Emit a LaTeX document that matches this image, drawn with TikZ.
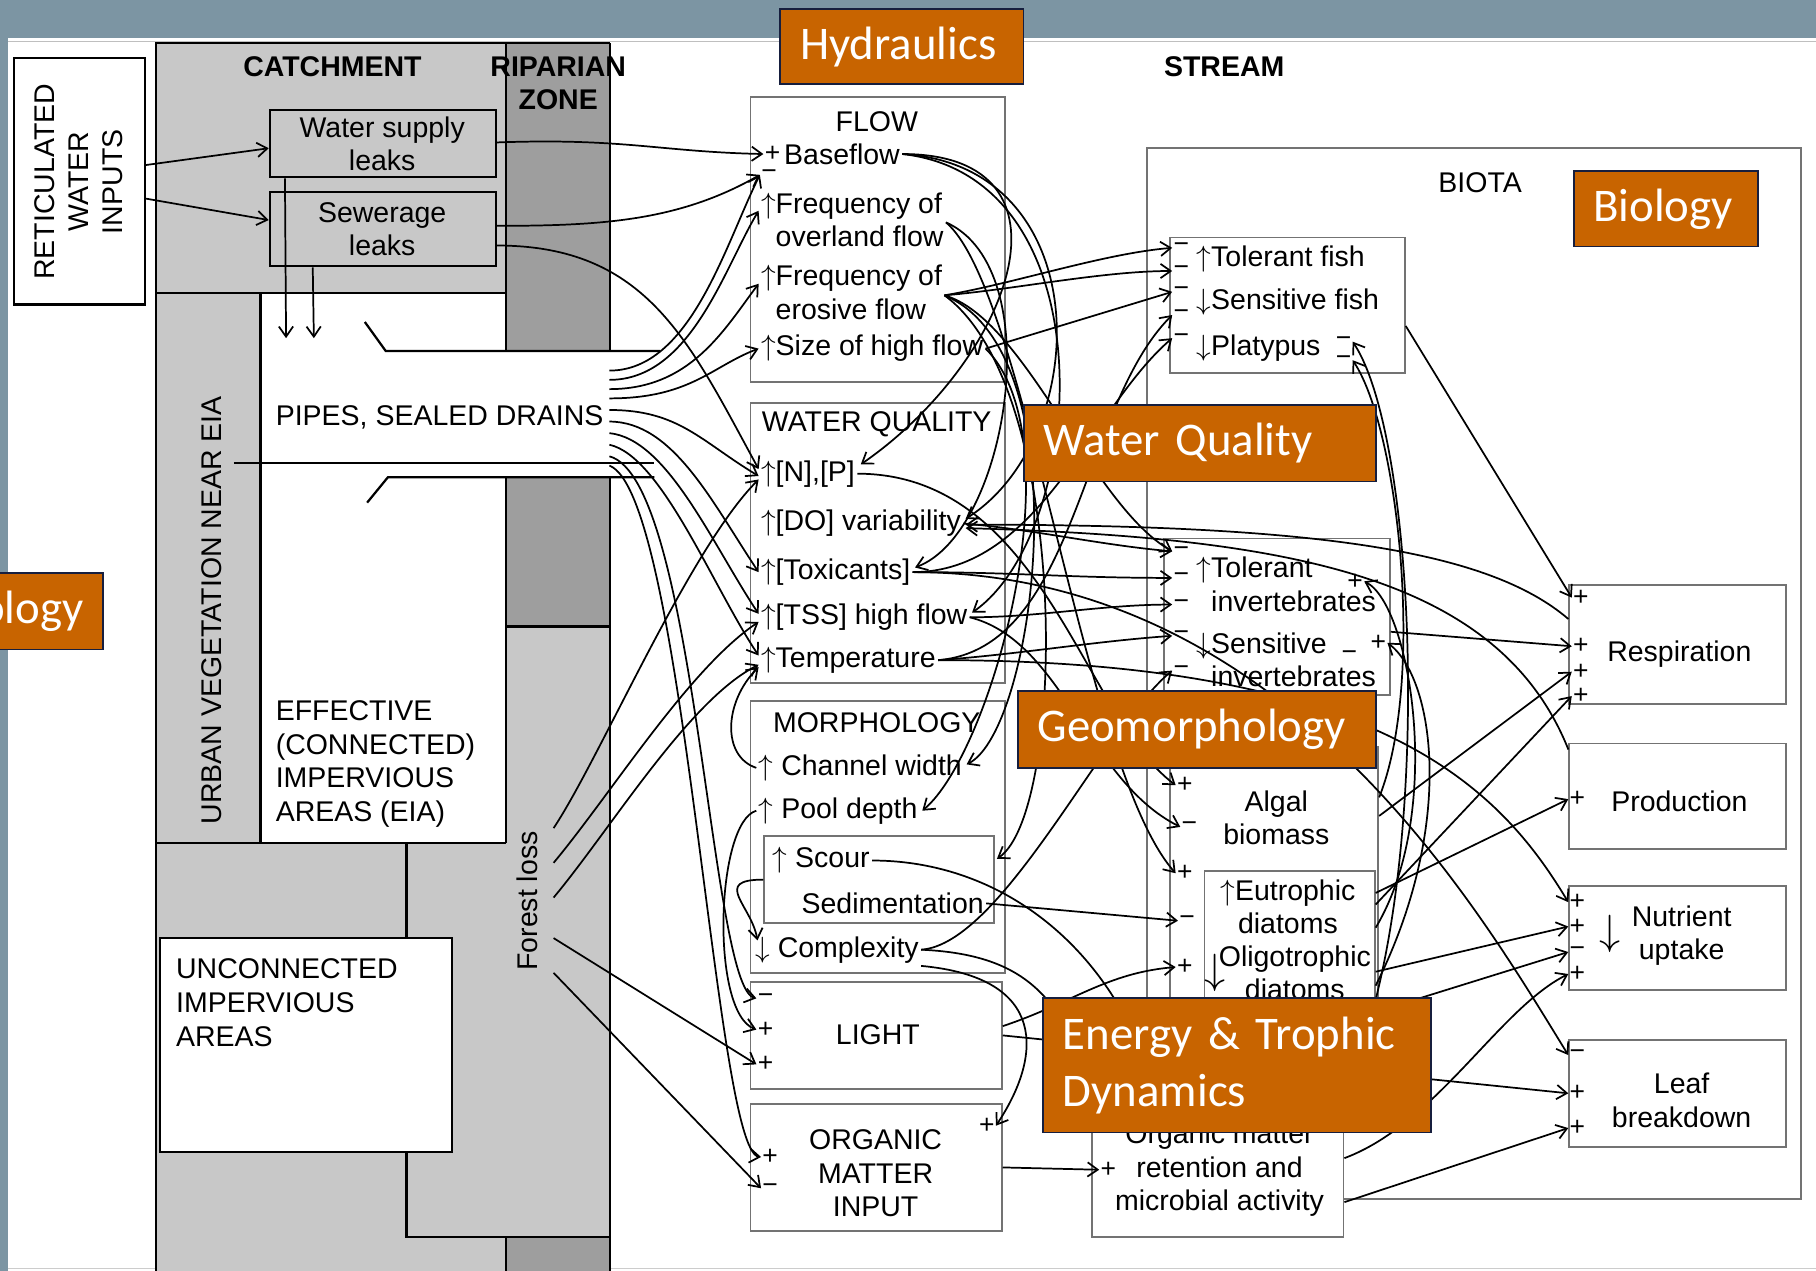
\documentclass[tikz,border=0pt]{standalone}
\usepackage{fontspec}
\setmainfont{Liberation Sans}
\newfontfamily\tagfamily{Carlito}
\usetikzlibrary{arrows.meta,calc,fit,positioning}
\definecolor{slate}{RGB}{124,149,163}
\definecolor{tagorange}{RGB}{200,100,0}
\definecolor{tagnavy}{RGB}{22,30,62}
\definecolor{catchgray}{RGB}{200,200,200}
\definecolor{ripgray}{RGB}{158,158,158}
\newcommand{\bodyfs}{\fontsize{14}{16.5}\selectfont}
\newcommand{\tagfs}{\fontsize{23}{28}\selectfont}
\newcommand{\up}{\ensuremath{\uparrow}}
\newcommand{\dn}{\ensuremath{\downarrow}}
\tikzset{
  arr/.style={-{Straight Barb[length=5pt,width=7pt]},line width=0.85pt},
  txt/.style={inner sep=1pt,font=\bodyfs},
  hd/.style={inner sep=1pt,font=\bodyfs\bfseries},
  item/.style={txt,anchor=west,align=left},
  sgn/.style={inner sep=0.5pt,font=\fontsize{13}{13}\selectfont},
  gbox/.style={draw=black!55,line width=0.9pt,inner sep=0pt},
  cbox/.style={draw=black,line width=1.1pt,inner sep=0pt},
  tag/.style={fill=tagorange,draw=tagnavy,line width=0.9pt,text=white,
    font=\tagfamily\tagfs,anchor=north west,inner xsep=0.34cm,inner ysep=0pt,align=left}
}
\begin{document}
\begin{tikzpicture}[x=0.02cm,y=-0.02cm]
\useasboundingbox (0,0) rectangle (1568,1097);
% slide background
\fill[white] (0,0) rectangle (1568,1097);
\fill[slate] (0,0) rectangle (1568,33);
\fill[slate] (0,0) rectangle (7,1097);
\draw[black!25] (7,36) -- (1568,36);
\draw[black!20] (7,1095) -- (1568,1095);

% catchment and riparian zone
\fill[catchgray] (135,37) rectangle (527,1097);
\fill[ripgray] (437,37) rectangle (527,303);
\fill[ripgray] (437,412) rectangle (527,541);
\fill[ripgray] (437,1068) rectangle (527,1097);
\fill[white] (225,253) rectangle (437,728);
\fill[white] (437,303) rectangle (527,412);
\draw[line width=1.1pt] (135,1097) -- (135,37) -- (527,37);
\draw[line width=1.1pt] (135,253) -- (437,253);
\draw[line width=1.1pt] (437,37) -- (437,303);
\draw[line width=1.1pt] (437,412) -- (437,728);
\draw[line width=1.1pt] (437,1068) -- (437,1097);
\draw[line width=1.1pt] (527,37) -- (527,303);
\draw[line width=1.1pt] (527,412) -- (527,1097);
\draw[line width=1.1pt] (437,541) -- (527,541);
\draw[line width=1.1pt] (225,253) -- (225,728);
\draw[line width=1.1pt] (135,728) -- (437,728);
\draw[line width=1.1pt] (351,728) -- (351,1068) -- (527,1068);
% pipe
\draw[line width=1.1pt] (315,278) -- (333,303) -- (570,303);
\draw[line width=1.1pt] (202,400) -- (565,400);
\draw[line width=1.1pt] (317,434) -- (335,412) -- (565,412);

\node[hd] (catch) at (287,58) {CATCHMENT};
\node[hd,align=center] (ripar) at (482,72) {RIPARIAN\\ZONE};
\node[hd] (stream) at (1057,58) {STREAM};

\node[cbox,fit={(12,50) (125,263)},fill=white] (rwi) {};
\node[txt,rotate=90,align=center] (rwit) at (68,157) {RETICULATED\\WATER\\INPUTS};
\node[cbox,fit={(233,95) (428,153)},fill=catchgray] (wsl) {};
\node[txt,align=center] (wslt) at (330,124) {Water supply\\leaks};
\node[cbox,fit={(233,166) (428,230)},fill=catchgray] (swl) {};
\node[txt,align=center] (swlt) at (330,198) {Sewerage\\leaks};
\node[txt,rotate=90] (urban) at (183,527) {URBAN VEGETATION NEAR EIA};
\node[txt,anchor=west] (pipes) at (236,360) {PIPES, SEALED DRAINS};
\node[txt,anchor=north west,align=left] (eia) at (236,603) {EFFECTIVE\\(CONNECTED)\\IMPERVIOUS\\AREAS (EIA)};
\node[cbox,fit={(138,810) (390,995)},fill=white] (uia) {};
\node[txt,anchor=north west,align=left] (uiat) at (150,826) {UNCONNECTED\\IMPERVIOUS\\AREAS};
\node[txt,rotate=90] (forest) at (455,778) {Forest loss};

% stream: physical boxes
\node[gbox,fit={(648,84) (868,330)}] (flow) {};
\node[txt] (flowt) at (757,105) {FLOW};
\node[item] (basef) at (675,133) {Baseflow};
\node[item] (overl) at (655,192) {\up Frequency of\\\phantom{\up}overland flow};
\node[item] (eros) at (655,255) {\up Frequency of\\\phantom{\up}erosive flow};
\node[item] (sizeh) at (655,301) {\up Size of high flow};

\node[gbox,fit={(648,348) (868,590)}] (wq) {};
\node[txt] (wqt) at (757,366) {WATER QUALITY};
\node[item] (np) at (655,409) {\up[N],[P]};
\node[item] (dov) at (655,452) {\up[DO] variability};
\node[item] (tox) at (655,494) {\up[Toxicants]};
\node[item] (tss) at (655,533) {\up[TSS] high flow};
\node[item] (temp) at (655,570) {\up Temperature};

\node[gbox,fit={(648,605) (868,840)}] (morph) {};
\node[txt] (morpht) at (757,624) {MORPHOLOGY};
\node[item] (chw) at (653,663) {\up\ Channel width};
\node[item] (pool) at (653,700) {\up\ Pool depth};
\node[gbox,fit={(660,722) (858,797)}] (scsed) {};
\node[item] (scour) at (665,743) {\up\ Scour};
\node[item] (sedim) at (690,780) {Sedimentation};
\node[item] (cplx) at (650,820) {\dn\ Complexity};

\node[gbox,fit={(648,848) (865,940)}] (light) {};
\node[txt] (lightt) at (758,893) {LIGHT};
\node[gbox,fit={(648,953) (865,1063)}] (omi) {};
\node[txt,align=center] (omit) at (756,1013) {ORGANIC\\MATTER\\INPUT};

% stream: biota
\node[gbox,fit={(990,128) (1555,1035)}] (biota) {};
\node[txt] (biotat) at (1278,158) {BIOTA};
\node[gbox,fit={(1010,205) (1213,322)}] (fishb) {};
\node[item] (tfish) at (1031,224) {\up Tolerant fish};
\node[item] (sfish) at (1031,261) {\dn Sensitive fish};
\node[item] (platy) at (1031,301) {\dn Platypus};
\node[gbox,fit={(1005,465) (1200,600)}] (invb) {};
\node[item] (tinv) at (1031,507) {\up Tolerant\\\phantom{\up}invertebrates};
\node[item] (sinv) at (1031,572) {\dn Sensitive\\\phantom{\dn}invertebrates};
\node[gbox,fit={(1010,645) (1190,872)}] (algb) {};
\node[txt,align=center] (algal) at (1102,706) {Algal\\biomass};
\node[gbox,fit={(1040,752) (1187,870)}] (diab) {};
\node[txt,align=center] (eutro) at (1112,783) {\up Eutrophic\\diatoms};
\node[txt,align=center] (oligo) at (1118,840) {Oligotrophic\\diatoms};
\node[txt,font=\fontsize{20}{20}\selectfont] (oligoar) at (1049,840) {\dn};
\node[gbox,fit={(943,960) (1160,1068)},fill=white] (omrb) {};
\node[txt,align=center] (omr) at (1053,1010) {Organic matter\\retention and\\microbial activity};

\node[gbox,fit={(1355,505) (1542,608)}] (resp) {};
\node[txt] (respt) at (1450,565) {Respiration};
\node[gbox,fit={(1355,642) (1542,733)}] (prod) {};
\node[txt] (prodt) at (1450,692) {Production};
\node[gbox,fit={(1355,765) (1542,855)}] (nutr) {};
\node[txt,align=center] (nutrt) at (1452,808) {Nutrient\\uptake};
\node[txt,font=\fontsize{20}{20}\selectfont] (nutrar) at (1390,806) {\dn};
\node[gbox,fit={(1355,898) (1542,990)}] (leaf) {};
\node[txt,align=center] (leaft) at (1452,950) {Leaf\\breakdown};

% signs
\foreach \n/\x/\y/\s in {bfp/667/133/+, bfm/664/151/−,
    tf1/1020/214/−, tf2/1020/234/−, sf1/1020/252/−, sf2/1020/272/−, pl1/1020/292/−,
    pl2/1160/295/−, pl3/1160/311/−,
    ti1/1020/476/−, ti2/1020/499/−, ti3/1020/522/−, si1/1020/549/−, si2/1020/579/−,
    tip/1170/502/+, sim/1165/566/−, sip/1190/555/+,
    al1/1023/678/+, al2/1027/714/−, al3/1023/754/+, al4/1025/795/−, al5/1023/835/+,
    orp/957/1010/+,
    rs1/1365/516/+, rs2/1365/558/+, rs3/1365/580/+, rs4/1365/601/+,
    pd1/1362/690/+,
    nu1/1362/779/+, nu2/1362/800/+, nu3/1362/822/−, nu4/1362/841/+,
    lf1/1362/911/−, lf2/1362/944/+, lf3/1362/974/+,
    lt1/661/862/−, lt2/661/889/+, lt3/661/919/+,
    oi1/665/999/+, oi2/665/1026/−, oi3/852/972/+}
  \node[sgn] (\n) at (\x,\y) {\s};

% catchment connectors
\coordinate (drainA) at (247,292);
\coordinate (drainB) at (271,292);
\draw[arr] ($(rwi.east)+(0,-14)$) -- ($(wsl.west)+(0,4)$);
\draw[arr] ($(rwi.east)+(0,15)$) -- ($(swl.west)+(0,-8)$);
\draw[arr] ($(wsl.south west)+(14,0)$) -- (drainA);
\draw[arr] ($(swl.south west)+(38,0)$) -- (drainB);
\draw[arr] ($(wsl.east)+(0,-1)$) .. controls +(110,-4) and +(-90,-2) .. (bfp.west);
\draw[arr] ($(swl.east)+(0,-3)$) .. controls +(90,0) and +(-70,40) .. (bfm.west);
\draw[arr] ($(swl.east)+(0,14)$) .. controls +(130,0) and +(-60,-110) .. ($(np.west)+(0,-4)$);

% pipes
\draw[arr] ($(pipes.east)+(3,-40)$) .. controls +(70,0) and +(-30,60) .. (bfm.west);
\draw[arr] ($(pipes.east)+(3,-32)$) .. controls +(70,0) and +(-30,50) .. ($(overl.west)+(0,-10)$);
\draw[arr] ($(pipes.east)+(3,-24)$) .. controls +(70,0) and +(-30,40) .. ($(eros.west)+(0,-10)$);
\draw[arr] ($(pipes.east)+(3,-16)$) .. controls +(70,0) and +(-40,15) .. (sizeh.west);
\draw[arr] ($(pipes.east)+(3,-6)$) .. controls +(60,0) and +(-50,-30) .. ($(np.west)+(0,2)$);
\draw[arr] ($(pipes.east)+(3,4)$) .. controls +(55,0) and +(-40,-60) .. (tox.west);
\draw[arr] ($(pipes.east)+(3,14)$) .. controls +(50,5) and +(-40,-60) .. ($(tss.west)+(0,-3)$);
\draw[arr] ($(pipes.east)+(3,24)$) .. controls +(45,10) and +(-40,-60) .. ($(temp.west)+(0,-4)$);
\draw[arr] ($(pipes.east)+(3,34)$) .. controls +(75,20) and +(-40,-10) .. (lt1.west);
\draw[arr] ($(pipes.east)+(3,42)$) .. controls +(65,25) and +(-40,-5) .. (oi1.west);

% forest loss
\draw[arr] ($(forest)+(23,-63)$) .. controls +(40,-60) and +(-60,60) .. ($(np.west)+(0,5)$);
\draw[arr] ($(forest)+(23,-33)$) .. controls +(50,-60) and +(-60,40) .. ($(tss.west)+(0,4)$);
\draw[arr] ($(forest)+(23,-3)$) .. controls +(50,-60) and +(-60,30) .. ($(temp.west)+(0,4)$);
\draw[arr] ($(forest)+(23,32)$) -- (lt3.west);
\draw[arr] ($(forest)+(23,62)$) -- (oi2.west);

% morphology loops
\draw[arr] (chw.west) .. controls +(-30,-10) and +(-30,30) .. ($(temp.west)+(0,6)$);
\draw[arr] (pool.west) .. controls +(-35,10) and +(-40,-15) .. (lt2.west);
\draw[arr] (scsed.west) .. controls +(-45,0) and +(-5,-30) .. ($(cplx.west)+(4,-8)$);

% flow to water quality, morphology and biota
\draw[arr] (basef.east) .. controls +(160,0) and +(130,-90) .. ($(np.east)+(3,-8)$);
\draw[arr] (basef.east) .. controls +(170,10) and +(110,-70) .. ($(dov.east)+(2,-4)$);
\draw[arr] (basef.east) .. controls +(180,20) and +(100,-70) .. ($(tss.east)+(2,-4)$);
\draw[arr] (overl.east) .. controls +(90,40) and +(80,-30) .. ($(tox.east)+(2,-4)$);
\draw[arr] (eros.east) .. controls +(60,-10) and +(-60,5) .. (tf1.west);
\draw[arr] (eros.east) .. controls +(60,-5) and +(-60,0) .. (tf2.west);
\draw[arr] (sizeh.east) -- (sf1.west);
\draw[arr] (eros.east) .. controls +(120,50) and +(60,-30) .. ($(chw.east)+(2,-3)$);
\draw[arr] (eros.east) .. controls +(110,80) and +(60,-40) .. ($(scsed.east)+(2,-18)$);
\draw[arr] (sizeh.east) .. controls +(80,80) and +(60,-50) .. ($(pool.east)+(2,0)$);
\draw[arr] (overl.east) .. controls +(70,60) and +(-80,-90) .. (al3.west);
\draw[arr] (eros.east) .. controls +(70,20) and +(-70,-40) .. (ti1.west);

% processes back to dissolved oxygen
\draw[arr] ($(resp.west)+(0,-22)$) .. controls +(-70,-60) and +(300,0) .. ($(dov.east)+(2,1)$);
\draw[arr] ($(prod.north west)+(0,6)$) .. controls +(-60,-150) and +(280,8) .. ($(dov.east)+(2,4)$);

% water quality and morphology to biota
\draw[arr] (dov.east) .. controls +(60,5) and +(-60,-5) .. (ti1.west);
\draw[arr] (tox.east) .. controls +(90,0) and +(-90,0) .. (ti2.west);
\draw[arr] (tss.east) .. controls +(60,0) and +(-60,0) .. (ti3.west);
\draw[arr] (temp.east) .. controls +(70,-5) and +(-70,5) .. (si1.west);
\draw[arr] (cplx.east) .. controls +(70,-5) and +(-60,50) .. (si2.west);
\draw[arr] (temp.east) .. controls +(120,-10) and +(-80,80) .. (sf2.west);
\draw[arr] (tox.east) .. controls +(110,0) and +(-70,60) .. (pl1.west);
\draw[arr] (np.east) .. controls +(160,0) and +(-80,-60) .. (al1.west);
\draw[arr] (tss.east) .. controls +(80,20) and +(-80,-40) .. (al2.west);
\draw[arr] (sedim.east) -- (al4.west);
\draw[arr] ($(light.east)+(0,-8)$) .. controls +(60,-20) and +(-60,5) .. (al5.west);
\draw[arr] (omi.east) -- (orp.west);
\draw[arr] (scour.east) .. controls +(120,0) and +(-30,-130) .. ($(omrb.north)+(-50,0)$);
\draw[arr] (cplx.east) .. controls +(110,5) and +(-40,-80) .. ($(omrb.north west)+(15,0)$);
\draw[arr] ($(cplx.east)+(0,14)$) .. controls +(110,10) and +(40,-60) .. (oi3.east);

% biota to processes
\draw[arr] ($(fishb.east)+(0,18)$) -- (rs1.west);
\draw[arr] ($(invb.east)+(0,13)$) -- (rs2.west);
\draw[arr] ($(algb.east)+(0,-54)$) -- (rs3.west);
\draw[arr] ($(diab.east)+(0,-40)$) -- (pd1.west);
\draw[arr] ($(diab.east)+(0,-30)$) -- (rs4.west);
\draw[arr] ($(diab.east)+(0,28)$) -- (nu2.west);
\draw[arr] (algb.south east) -- (nu3.west);
\draw[arr] ($(omrb.east)+(0,-14)$) .. controls +(80,-30) and +(-60,30) .. (nu4.west);
\draw[arr] ($(omrb.east)+(0,24)$) -- (lf3.west);
\draw[arr] (light.east) -- (lf2.west);
\draw[arr] (tox.east) .. controls +(320,0) and +(-80,-130) .. (lf1.west);
\draw[arr] (temp.east) .. controls +(380,0) and +(-60,-100) .. (nu1.west);

% food-web feedback
\draw[arr] ($(omrb.north east)+(-10,0)$) .. controls +(90,-150) and +(60,90) .. (pl2.east);
\draw[arr] ($(algb.east)+(0,-70)$) .. controls +(40,-100) and +(40,60) .. (pl3.east);
\draw[arr] ($(diab.east)+(0,-10)$) .. controls +(60,-100) and +(40,20) .. (tip.east);
\draw[arr] ($(diab.east)+(0,40)$) .. controls +(70,-140) and +(40,30) .. (sip.east);

% slide labels
\node[tag,text width=3.52cm,minimum height=1.3cm] (hydr) at (673,7) {Hydraulics};
\node[tag,text width=2.5cm,minimum height=1.3cm] (biol) at (1358,147) {Biology};
\node[tag,text width=5.4cm,minimum height=1.32cm] (wqtag) at (883,349) {Water Quality};
\node[tag,text width=5.5cm,minimum height=1.32cm] (geotag) at (878,596) {Geomorphology};
\node[tag,text width=6.02cm,minimum height=2.32cm] (entag) at (900,861) {Energy \& Trophic\\Dynamics};
\node[tag,anchor=north east,align=right,minimum height=1.32cm] (olog) at (90,494) {ology};
\end{tikzpicture}
\end{document}
